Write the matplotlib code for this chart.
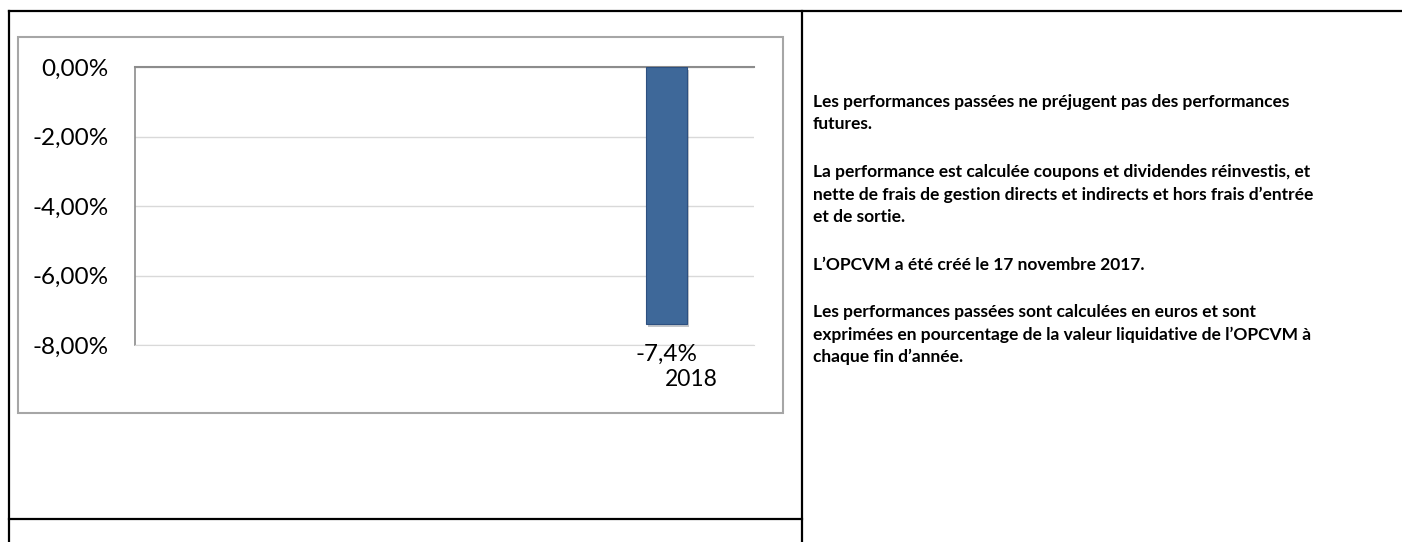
import matplotlib.pyplot as plt
import matplotlib.patheffects as pe
from matplotlib.lines import Line2D
from matplotlib.patches import Rectangle
from matplotlib.transforms import ScaledTranslation

# Données du graphique
annees = ['2018']
performances = [-7.4]
etiquettes = ['-7,4%']
graduations = [0, -2, -4, -6, -8]

paragraphes = [
    "Les performances passées ne préjugent pas des performances\nfutures.",
    "La performance est calculée coupons et dividendes réinvestis, et\n"
    "nette de frais de gestion directs et indirects et hors frais d’entrée\n"
    "et de sortie.",
    "L’OPCVM a été créé le 17 novembre 2017.",
    "Les performances passées sont calculées en euros et sont\n"
    "exprimées en pourcentage de la valeur liquidative de l’OPCVM à\n"
    "chaque fin d’année.",
]

plt.rcParams['font.family'] = ['Lato', 'DejaVu Sans']

W, H = 1402, 542
fig = plt.figure(figsize=(W / 100, H / 100), dpi=100)

# Lignes du tableau
for x0, y0, x1, y1 in [(9, 11, 1402, 11), (9, 11, 9, 542),
                       (802, 11, 802, 542), (9, 519, 802, 519)]:
    fig.add_artist(Line2D([x0 / W, x1 / W], [1 - y0 / H, 1 - y1 / H],
                          color='black', lw=1.6))

# Cadre du graphique
fig.add_artist(Rectangle((18 / W, 1 - 413 / H), (783 - 18) / W, (413 - 37) / H,
                         fill=False, edgecolor='#A6A6A6', lw=1.5))

ax = fig.add_axes([135 / W, 1 - 345 / H, (754 - 135) / W, (345 - 67) / H])
x = list(range(len(annees)))
barres = ax.bar(x, performances, width=1, color='#3E6899',
                edgecolor='#2D5080', lw=0.8, zorder=3)
for b in barres:
    b.set_path_effects([pe.SimplePatchShadow(offset=(1.5, -2), alpha=0.25),
                        pe.Normal()])

ax.set_xlim(-12.96, 2.13)
ax.set_ylim(-8, 0)
ax.set_yticks(graduations)
ax.set_yticklabels([f"{v:.2f}%".replace('.', ',') for v in graduations])
ax.set_xticks(x, labels=annees)

ax.set_axisbelow(True)
ax.yaxis.grid(True, color='#D9D9D9', lw=1)
ax.spines['right'].set_visible(False)
ax.spines['bottom'].set_color('#D9D9D9')
ax.spines['left'].set_color('#8C8C8C')
ax.spines['left'].set_linewidth(1.2)
ax.spines['top'].set_color('#8C8C8C')
ax.spines['top'].set_linewidth(1.5)

ax.tick_params(axis='y', length=0, labelsize=17.5, pad=19)
ax.tick_params(axis='x', length=0, labelsize=16.5, pad=17)
for lbl in ax.get_xticklabels():
    lbl.set_transform(lbl.get_transform() + ScaledTranslation(0.25, 0, fig.dpi_scale_trans))

# Étiquettes de données
for xi, v, e in zip(x, performances, etiquettes):
    ax.annotate(e, (xi, v), xytext=(0, -22), textcoords='offset points',
                ha='center', va='center', fontsize=17.5)

# Texte de droite, un bloc par paragraphe
for haut, p in zip([94, 164, 257, 304], paragraphes):
    fig.text(813 / W, 1 - haut / H, p, ha='left', va='top', fontsize=12.5,
             fontweight='bold', linespacing=1.47)

fig.savefig('out.png', dpi=100)
